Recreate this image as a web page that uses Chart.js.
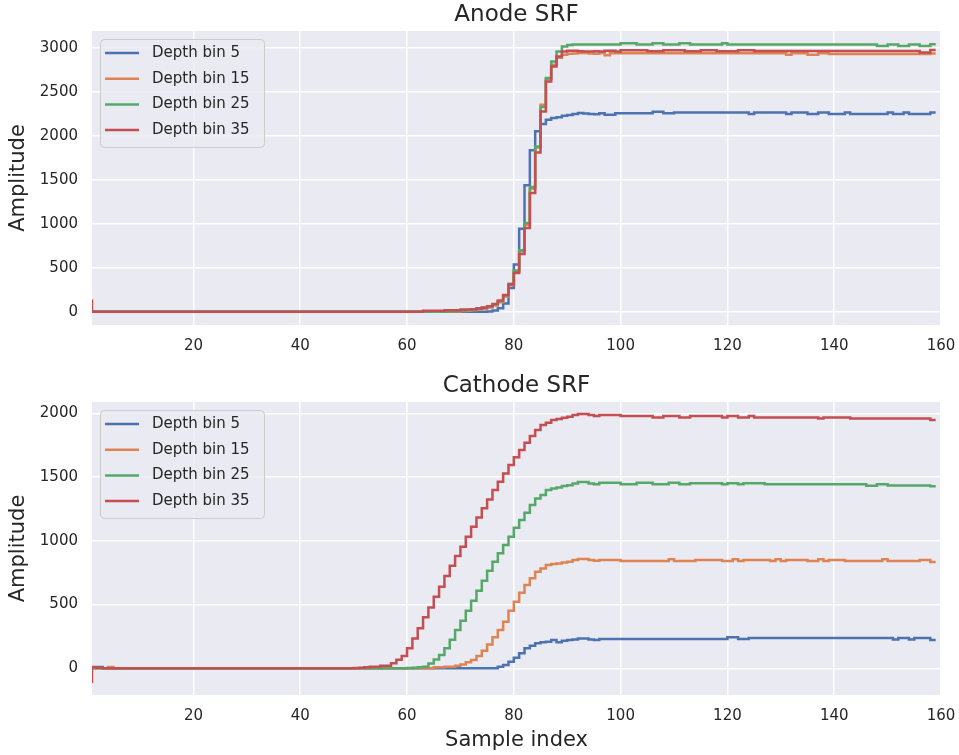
<!DOCTYPE html>
<html>
<head>
<meta charset="utf-8">
<title>Anode / Cathode SRF</title>
<script src="https://cdn.jsdelivr.net/npm/chart.js@4.4.0/dist/chart.umd.min.js"></script>
<style>
  html, body { margin: 0; padding: 0; background: #fff; }
  #wrap { position: relative; width: 959px; height: 755px; }
  canvas { position: absolute; left: 0; }
  #anode { top: 0; }
  #cathode { top: 370px; }
</style>
</head>
<body>
<div id="wrap">
  <canvas id="anode" width="959" height="370"></canvas>
  <canvas id="cathode" width="959" height="385"></canvas>
</div>
<script>
// sample index axis, 1..159
const sampleIndex = Array.from({ length: 159 }, (_, i) => i + 1);
const binLabels = ['Depth bin 5', 'Depth bin 15', 'Depth bin 25', 'Depth bin 35'];
const colors = ['#4C72B0', '#DD8452', '#55A868', '#C44E52'];
const xTicks = [20, 40, 60, 80, 100, 120, 140, 160];
const anodeYTicks = [0, 500, 1000, 1500, 2000, 2500, 3000];
const cathodeYTicks = [0, 500, 1000, 1500, 2000];

// ---- Anode ----
const anodeBin5 = [
  0,0,0,0,0,0,0,0,0,0,
  0,0,0,0,0,0,0,0,0,0,
  0,0,0,0,0,0,0,0,0,0,
  0,0,0,0,0,0,0,0,0,0,
  0,0,0,0,0,0,0,0,0,0,
  0,0,0,0,0,0,0,0,0,0,
  0,0,0,0,0,0,0,0,0,0,
  0,0,0,0,0,5,15,40,95,272,
  537,946,1439,1837,2053,2136,2185,2204,2215,2230,
  2240,2252,2262,2255,2250,2248,2258,2243,2243,2258,
  2258,2258,2258,2258,2258,2258,2275,2275,2258,2258,
  2268,2268,2268,2268,2268,2268,2268,2268,2268,2268,
  2268,2268,2268,2268,2252,2268,2268,2268,2268,2268,
  2268,2252,2268,2268,2268,2252,2252,2268,2268,2252,
  2252,2252,2268,2252,2252,2252,2252,2252,2252,2252,
  2268,2252,2252,2268,2252,2252,2252,2252,2268
];
const anodeBin15 = [
  0,0,0,0,0,0,0,0,0,0,
  0,0,0,0,0,0,0,0,0,0,
  0,0,0,0,0,0,0,0,0,0,
  0,0,0,0,0,0,0,0,0,0,
  0,0,0,0,0,0,0,0,0,0,
  0,0,0,0,0,0,0,0,0,0,
  0,0,0,0,0,0,0,0,3,5,
  8,12,18,25,35,48,72,110,175,305,
  460,690,990,1400,1870,2357,2650,2810,2890,2925,
  2935,2940,2945,2945,2940,2935,2945,2920,2943,2943,
  2943,2943,2943,2943,2943,2943,2943,2943,2943,2943,
  2943,2943,2943,2943,2943,2943,2943,2943,2943,2943,
  2943,2943,2943,2943,2943,2943,2943,2943,2943,2943,
  2943,2925,2943,2943,2943,2925,2925,2943,2943,2932,
  2932,2932,2932,2932,2932,2932,2932,2932,2932,2932,
  2932,2932,2932,2932,2932,2932,2932,2932,2940
];
const anodeBin25 = [
  0,0,0,0,0,0,0,0,0,0,
  0,0,0,0,0,0,0,0,0,0,
  0,0,0,0,0,0,0,0,0,0,
  0,0,0,0,0,0,0,0,0,0,
  0,0,0,0,0,0,0,0,0,0,
  0,0,0,0,0,0,0,0,0,0,
  0,0,0,0,0,0,0,5,8,10,
  15,20,25,35,45,60,85,120,185,320,
  470,700,1010,1420,1880,2330,2660,2848,2961,3018,
  3037,3040,3040,3040,3040,3040,3040,3040,3040,3040,
  3055,3055,3055,3040,3040,3040,3055,3055,3040,3040,
  3040,3055,3055,3040,3040,3040,3040,3040,3040,3055,
  3040,3040,3040,3040,3040,3040,3040,3040,3040,3040,
  3040,3040,3040,3040,3040,3040,3040,3040,3040,3040,
  3040,3040,3040,3040,3040,3040,3040,3040,3023,3023,
  3040,3040,3023,3023,3040,3040,3023,3023,3045
];
const anodeBin35 = [
  140,0,0,0,0,0,0,0,0,0,
  0,0,0,0,0,0,0,0,0,0,
  0,0,0,0,0,0,0,0,0,0,
  0,0,0,0,0,0,0,0,0,0,
  0,0,0,0,0,0,0,0,0,0,
  0,0,0,0,0,0,0,0,0,0,
  0,0,0,12,12,12,12,18,18,18,
  25,25,30,40,50,63,90,130,190,310,
  443,659,955,1352,1814,2280,2620,2790,2905,2961,
  2970,2970,2965,2962,2962,2965,2962,2970,2970,2962,
  2975,2975,2975,2975,2975,2965,2965,2965,2975,2975,
  2975,2975,2965,2965,2965,2975,2975,2975,2965,2965,
  2965,2965,2975,2975,2975,2968,2968,2968,2968,2968,
  2968,2968,2968,2968,2968,2968,2968,2968,2968,2968,
  2968,2968,2968,2968,2968,2968,2968,2968,2968,2968,
  2968,2968,2968,2968,2968,2968,2950,2950,2978
];

// ---- Cathode ----
const cathodeBin5 = [
  0,10,10,0,0,0,0,0,0,0,
  0,0,0,0,0,0,0,0,0,0,
  0,0,0,0,0,0,0,0,0,0,
  0,0,0,0,0,0,0,0,0,0,
  0,0,0,0,0,0,0,0,0,0,
  0,0,0,0,0,0,0,0,0,0,
  0,0,0,0,0,0,0,0,0,0,
  0,0,0,0,0,0,0,13,26,52,
  84,118,157,178,196,204,209,222,204,217,
  222,227,235,235,227,222,230,230,230,230,
  230,230,230,230,230,230,230,230,230,230,
  230,230,230,230,230,230,230,230,230,230,
  243,243,230,230,238,238,238,238,238,238,
  238,238,238,238,238,238,238,238,238,238,
  238,238,238,238,238,238,238,238,238,238,
  238,227,238,238,227,238,238,238,222
];
const cathodeBin15 = [
  0,0,0,0,10,0,0,0,0,0,
  0,0,0,0,0,0,0,0,0,0,
  0,0,0,0,0,0,0,0,0,0,
  0,0,0,0,0,0,0,0,0,0,
  0,0,0,0,0,0,0,0,0,0,
  0,0,0,0,0,0,0,0,0,0,
  0,0,0,0,0,8,8,13,13,21,
  31,47,65,97,139,188,243,300,366,452,
  523,593,653,706,758,784,810,818,823,831,
  836,850,857,857,850,844,849,849,849,849,
  841,841,841,841,841,841,841,841,841,855,
  841,841,841,841,849,849,849,849,849,841,
  841,855,841,849,849,849,849,849,841,855,
  841,849,849,849,849,841,841,855,841,849,
  849,849,841,841,841,841,841,841,841,855,
  841,841,841,841,841,841,849,849,834
];
const cathodeBin25 = [
  0,0,0,0,0,0,0,0,0,0,
  0,0,0,0,0,0,0,0,0,0,
  0,0,0,0,0,0,0,0,0,0,
  0,0,0,0,0,0,0,0,0,0,
  0,0,0,0,0,0,0,0,0,0,
  0,0,0,0,0,0,0,0,0,0,
  3,5,8,13,39,70,105,157,225,300,
  374,452,531,609,687,766,836,902,967,1032,
  1103,1163,1221,1281,1333,1359,1398,1411,1419,1430,
  1437,1450,1461,1461,1450,1443,1456,1456,1456,1456,
  1443,1443,1443,1456,1456,1456,1443,1443,1443,1456,
  1456,1443,1443,1451,1451,1451,1451,1451,1451,1443,
  1451,1451,1443,1451,1451,1451,1451,1443,1443,1443,
  1443,1443,1443,1443,1443,1443,1443,1443,1443,1443,
  1443,1443,1443,1443,1443,1443,1433,1433,1443,1443,
  1435,1435,1435,1435,1435,1435,1435,1435,1428
];
const cathodeBin35 = [
  -115,8,5,0,0,0,0,0,0,0,
  0,0,0,0,0,0,0,0,0,0,
  0,0,0,0,0,0,0,0,0,0,
  0,0,0,0,0,0,0,0,0,0,
  0,0,0,0,0,0,0,0,0,0,
  3,5,8,12,12,20,20,40,68,97,
  157,235,314,400,478,562,640,724,805,881,
  954,1033,1111,1184,1255,1325,1398,1464,1529,1595,
  1655,1712,1770,1822,1869,1908,1927,1948,1955,1966,
  1974,1987,1994,1994,1987,1979,1987,1987,1987,1987,
  1979,1979,1979,1979,1979,1979,1968,1968,1979,1979,
  1979,1968,1968,1979,1979,1979,1979,1979,1979,1968,
  1979,1979,1968,1968,1979,1968,1968,1968,1968,1968,
  1968,1968,1968,1968,1968,1968,1968,1960,1968,1968,
  1968,1968,1968,1960,1960,1960,1960,1960,1960,1960,
  1960,1960,1960,1960,1960,1960,1960,1960,1947
];

const FONT = '"DejaVu Sans", sans-serif';
const TEXT = '#262626';

// grey plot background, like seaborn darkgrid
const plotBg = {
  id: 'plotBg',
  beforeDraw(chart) {
    const { ctx, chartArea: a } = chart;
    ctx.save();
    ctx.fillStyle = '#EAEAF2';
    ctx.fillRect(a.left, a.top, a.right - a.left, a.bottom - a.top);
    ctx.restore();
  }
};

// legend box inside the upper left corner of the plot
const innerLegend = {
  id: 'innerLegend',
  afterDatasetsDraw(chart) {
    const { ctx, chartArea: a } = chart;
    const x0 = a.left + 8, y0 = a.top + 8;
    ctx.save();
    ctx.beginPath();
    ctx.roundRect(x0 + 0.5, y0 + 0.5, 164, 108, 4);
    ctx.fillStyle = 'rgba(234,234,242,0.8)';
    ctx.fill();
    ctx.strokeStyle = '#cccccc';
    ctx.lineWidth = 1;
    ctx.stroke();
    ctx.font = '15px ' + FONT;
    ctx.textBaseline = 'middle';
    chart.data.datasets.forEach((ds, i) => {
      const y = y0 + 14 + i * 25.7;
      ctx.strokeStyle = ds.borderColor;
      ctx.lineWidth = 2.5;
      ctx.beginPath();
      ctx.moveTo(x0 + 5, y);
      ctx.lineTo(x0 + 39, y);
      ctx.stroke();
      ctx.fillStyle = TEXT;
      ctx.fillText(ds.label, x0 + 52, y);
    });
    ctx.restore();
  }
};

function makeChart(id, title, series, yMin, yMax, yTicks, xAxisHeight, showXTitle, titleTop) {
  const datasets = series.map((vals, i) => ({
    label: binLabels[i],
    data: vals.map((v, k) => ({ x: sampleIndex[k], y: v })),
    borderColor: colors[i],
    borderWidth: 2.5,
    stepped: 'after',
    pointRadius: 0,
    fill: false,
    order: series.length - i   // last bin on top, like matplotlib
  }));

  return new Chart(document.getElementById(id), {
    type: 'line',
    data: { datasets },
    options: {
      responsive: false,
      animation: false,
      layout: { padding: { left: 0, right: 18, top: 0, bottom: 0 } },
      plugins: {
        legend: { display: false },
        tooltip: { enabled: false },
        title: {
          display: true,
          text: title,
          fullSize: false,
          color: TEXT,
          font: { family: FONT, size: 23, weight: 'normal' },
          padding: { top: titleTop, bottom: 2.4 }
        }
      },
      scales: {
        x: {
          type: 'linear',
          min: 1,
          max: 160,
          border: { display: false },
          grid: { color: '#ffffff', lineWidth: 1.5, drawTicks: false },
          afterBuildTicks: (s) => { s.ticks = xTicks.map(v => ({ value: v })); },
          ticks: {
            padding: 12,
            color: TEXT,
            font: { family: FONT, size: 15 },
            maxRotation: 0,
            callback: (v) => String(v)
          },
          title: {
            display: showXTitle,
            text: 'Sample index',
            color: TEXT,
            font: { family: FONT, size: 21 },
            padding: { top: 0, bottom: 2 }
          },
          afterFit: (s) => {
            s.height = xAxisHeight;
            s.paddingLeft = 0;
            s.paddingRight = 0;
          }
        },
        y: {
          min: yMin,
          max: yMax,
          border: { display: false },
          grid: { color: '#ffffff', lineWidth: 1.5, drawTicks: false },
          afterBuildTicks: (s) => { s.ticks = yTicks.map(v => ({ value: v })); },
          ticks: {
            padding: 14,
            color: TEXT,
            font: { family: FONT, size: 15 },
            callback: (v) => String(v)
          },
          title: {
            display: true,
            text: 'Amplitude',
            color: TEXT,
            font: { family: FONT, size: 21 },
            padding: { top: 6, bottom: 0 }
          },
          afterFit: (s) => { s.width = 92; }
        }
      }
    },
    plugins: [plotBg, innerLegend]
  });
}

makeChart('anode', 'Anode SRF',
  [anodeBin5, anodeBin15, anodeBin25, anodeBin35],
  -150, 3195, anodeYTicks, 45, false, 1);

makeChart('cathode', 'Cathode SRF',
  [cathodeBin5, cathodeBin15, cathodeBin25, cathodeBin35],
  -209, 2089, cathodeYTicks, 60, true, 2);
</script>
</body>
</html>
